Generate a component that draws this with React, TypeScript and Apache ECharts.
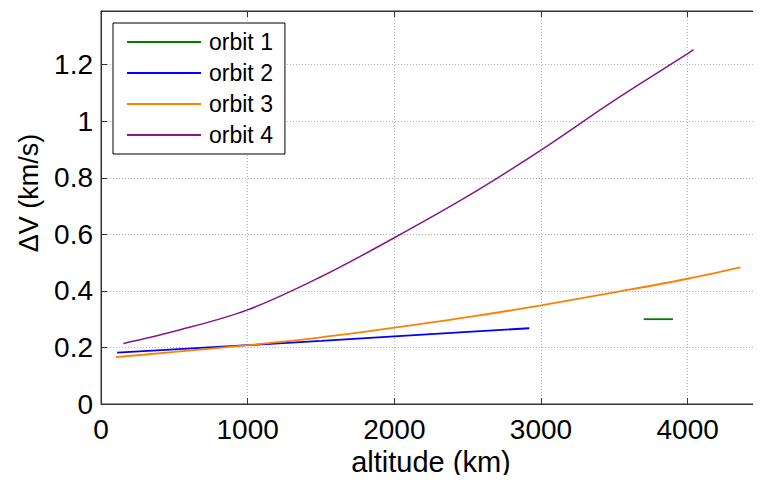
import React, { useEffect, useRef } from "react";
import * as echarts from "echarts";

const seriesNames = ["orbit 1", "orbit 2", "orbit 3", "orbit 4"];
const seriesColors = ["#008000", "#0000ff", "#ff8000", "#8a148a"];

const orbit1X = [3700, 3900];
const orbit1Y = [0.3, 0.3];

const orbit2X = [110, 500, 1000, 1500, 2000, 2500, 2920];
const orbit2Y = [0.182, 0.193, 0.208, 0.223, 0.239, 0.255, 0.268];

const orbit3X = [100, 500, 1000, 1500, 2000, 2500, 3000, 3500, 4000, 4360];
const orbit3Y = [0.166, 0.184, 0.208, 0.236, 0.27, 0.307, 0.349, 0.395, 0.443, 0.483];

const orbit4X = [153, 500, 1000, 1500, 2000, 2500, 3000, 3500, 4000, 4040];
const orbit4Y = [0.214, 0.257, 0.333, 0.45, 0.588, 0.735, 0.898, 1.074, 1.239, 1.253];

const xTicks = { min: 0, max: 4500, interval: 1000 };
const yTicks = { min: 0, max: 1.39, interval: 0.2 };

const FONT = "'Liberation Sans', Arial, Helvetica, sans-serif";

function zip(xs: number[], ys: number[]) {
  return xs.map((x, i) => [x, ys[i]]);
}

export default function App() {
  const ref = useRef<HTMLDivElement>(null);
  useEffect(() => {
    if (!ref.current) return;
    const chart = echarts.init(ref.current, null, { renderer: "svg" });
    const allData = [
      zip(orbit1X, orbit1Y),
      zip(orbit2X, orbit2Y),
      zip(orbit3X, orbit3Y),
      zip(orbit4X, orbit4Y),
    ];
    const splitLine = {
      show: true,
      lineStyle: { color: "#b4b4b4", type: [1, 2] as any, width: 1 },
    };
    chart.setOption({
      animation: false,
      backgroundColor: "#fff",
      textStyle: { fontFamily: FONT },
      grid: {
        left: 101,
        top: 11,
        width: 672,
        height: 393,
        show: true,
        borderColor: "#333",
        borderWidth: 1,
        backgroundColor: "transparent",
      },
      legend: {
        orient: "vertical",
        left: 113,
        top: 23,
        backgroundColor: "#fff",
        borderColor: "#000",
        borderWidth: 1,
        borderRadius: 0,
        padding: [7, 12, 7, 14],
        itemGap: 7,
        itemWidth: 74,
        itemHeight: 2,
        icon: "rect",
        data: seriesNames,
        textStyle: {
          fontSize: 23,
          lineHeight: 24,
          color: "#000",
          fontFamily: FONT,
          padding: [0, 0, 0, 3],
        },
      },
      xAxis: [
        {
          type: "value",
          position: "bottom",
          min: xTicks.min,
          max: xTicks.max,
          interval: xTicks.interval,
          axisLine: { show: true, lineStyle: { color: "#333", width: 1 } },
          axisTick: { show: true, inside: true, length: 6, lineStyle: { color: "#333" } },
          axisLabel: {
            fontSize: 28,
            color: "#000",
            margin: 11,
            showMaxLabel: false,
            fontFamily: FONT,
            formatter: (v: number) => String(v),
          },
          splitLine,
          name: "altitude (km)",
          nameLocation: "middle",
          nameGap: 42,
          nameTextStyle: { fontSize: 29, color: "#000", fontFamily: FONT },
        },
        {
          type: "value",
          position: "top",
          min: xTicks.min,
          max: xTicks.max,
          interval: xTicks.interval,
          axisLine: { show: true, lineStyle: { color: "#333", width: 1 } },
          axisTick: { show: true, inside: true, length: 6, lineStyle: { color: "#333" } },
          axisLabel: { show: false },
          splitLine: { show: false },
        },
      ],
      yAxis: [
        {
          type: "value",
          position: "left",
          min: yTicks.min,
          max: yTicks.max,
          interval: yTicks.interval,
          axisLine: { show: true, lineStyle: { color: "#333", width: 1 } },
          axisTick: { show: true, inside: true, length: 6, lineStyle: { color: "#333" } },
          axisLabel: {
            fontSize: 28,
            color: "#000",
            margin: 8,
            showMaxLabel: false,
            fontFamily: FONT,
          },
          splitLine,
        },
      ],
      graphic: [
        {
          type: "text",
          x: 29,
          y: 193,
          rotation: Math.PI / 2,
          style: {
            text: "ΔV (km/s)",
            fontSize: 27,
            fontFamily: FONT,
            fill: "#000",
            align: "center",
            verticalAlign: "middle",
          },
        },
      ],
      series: seriesNames.map((name, i) => ({
        name,
        type: "line",
        xAxisIndex: 0,
        yAxisIndex: 0,
        data: allData[i],
        showSymbol: false,
        symbol: "none",
        smooth: i >= 2 ? 0.35 : false,
        lineStyle: { color: seriesColors[i], width: i === 3 ? 1.5 : 1.8 },
        itemStyle: { color: seriesColors[i] },
        z: 3,
      })),
    });
    return () => chart.dispose();
  }, []);
  return <div ref={ref} style={{ width: 761, height: 483, margin: -8 }} />;
}
